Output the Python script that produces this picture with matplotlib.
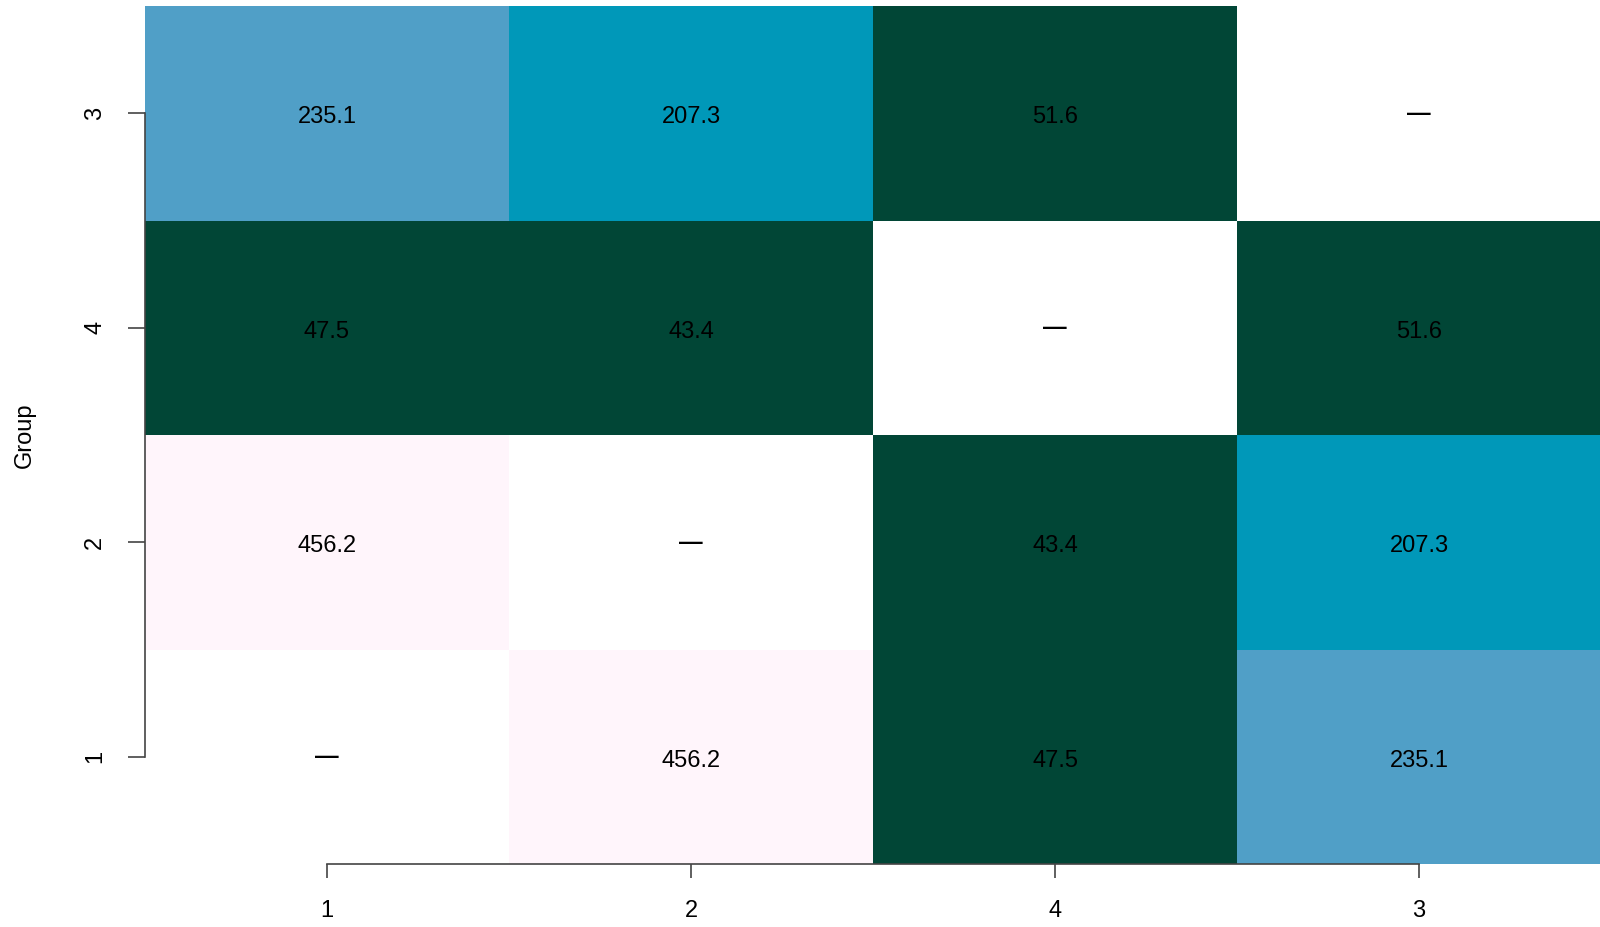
import numpy as np
import matplotlib
matplotlib.use("Agg")
from matplotlib import pyplot as plt
from matplotlib.colors import ListedColormap, BoundaryNorm
from matplotlib.transforms import ScaledTranslation

# groups as they appear on each axis (x left->right, y bottom->top)
x_groups = ["1", "2", "4", "3"]
y_groups = ["1", "2", "4", "3"]

# pairwise values, diagonal empty
row_1 = [np.nan, 456.2, 47.5, 235.1]
row_2 = [456.2, np.nan, 43.4, 207.3]
row_4 = [47.5, 43.4, np.nan, 51.6]
row_3 = [235.1, 207.3, 51.6, np.nan]

vals = np.array([row_1, row_2, row_4, row_3])

plt.rcParams["font.family"] = ["Liberation Sans", "DejaVu Sans"]

cmap = ListedColormap(["#014636", "#0098B9", "#509FC7", "#FFF5FB"])
cmap.set_bad("white")
norm = BoundaryNorm([0, 100, 220, 300, 1000], cmap.N)

fig = plt.figure(figsize=(16, 9.27), dpi=100)
ax = fig.add_axes([145 / 1600, 63 / 927, 1456 / 1600, 858 / 927])

xs = np.arange(len(x_groups) + 1) + 0.5
ys = np.arange(len(y_groups) + 1) + 0.5
ax.pcolormesh(xs, ys, np.ma.masked_invalid(vals), cmap=cmap, norm=norm)

# nudge the numbers down a little, like R's text()
shift = ax.transData + ScaledTranslation(0, -0.04, fig.dpi_scale_trans)
for i in range(len(y_groups)):
    for j in range(len(x_groups)):
        v = vals[i, j]
        if np.isnan(v):
            ax.text(j + 1, i + 1, "\u2014", ha="center", va="center", fontsize=17,
                    fontweight="bold", color="black")
        else:
            ax.text(j + 1, i + 1, "%.1f" % v, ha="center", va="center", fontsize=17,
                    color="black", transform=shift)

ax.set_xlim(0.5, 4.5)
ax.set_ylim(0.5, 4.5)
ax.set_xticks(range(1, 5))
ax.set_xticklabels(x_groups, fontsize=17)
ax.set_yticks(range(1, 5))
ax.set_yticklabels(y_groups, fontsize=17, rotation=90, va="center")

for s in ["top", "right"]:
    ax.spines[s].set_visible(False)
ax.spines["left"].set_bounds(1, 4)
ax.spines["bottom"].set_bounds(1, 4)
for s in ["left", "bottom"]:
    ax.spines[s].set_color("#444444")
    ax.spines[s].set_linewidth(1.2)
    ax.spines[s].set_zorder(5)
ax.tick_params(axis="y", length=12, width=1.2, color="#444444", pad=16)
ax.tick_params(axis="x", length=10, width=1.2, color="#444444", pad=16)

fig.text(25 / 1600, 1 - 435 / 927, "Group", rotation=90, ha="center", va="center", fontsize=17)

fig.savefig("out.png", dpi=100, facecolor="white")
